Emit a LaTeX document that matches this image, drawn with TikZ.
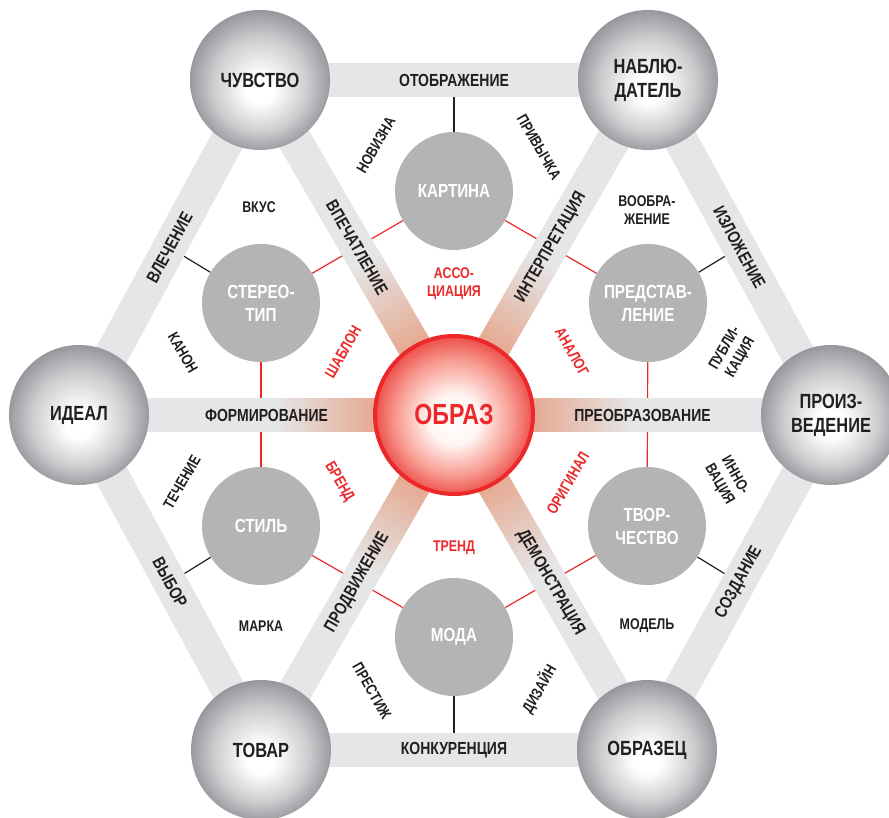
\documentclass[tikz,border=0pt]{standalone}
\usepackage{fontspec}
\setmainfont{Liberation Sans}[FakeStretch=0.8]
\usetikzlibrary{calc}
\definecolor{bandgray}{RGB}{229,230,231}
\definecolor{peach}{RGB}{230,166,140}
\definecolor{txt}{RGB}{35,31,32}
\definecolor{redc}{RGB}{236,40,42}
\definecolor{innergray}{RGB}{180,180,180}
\pgfdeclareradialshading{sphere}{\pgfpoint{0bp}{-4bp}}{rgb(0bp)=(1,1,1); rgb(5bp)=(1,1,1); rgb(17bp)=(0.8,0.8,0.81); rgb(29bp)=(0.5,0.5,0.53)}
\pgfdeclareradialshading{redball}{\pgfpoint{0bp}{-2bp}}{rgb(0bp)=(1,1,1); rgb(8bp)=(1,0.96,0.95); rgb(18bp)=(0.97,0.62,0.58); rgb(25bp)=(0.93,0.32,0.3); rgb(30bp)=(0.93,0.32,0.3)}
\pgfdeclarelayer{lines}
\pgfdeclarelayer{bands}
\pgfsetlayers{lines,bands,main}
\tikzset{
 outer/.style={circle, minimum size=140pt, inner sep=0pt, shade, shading=sphere, text=txt, font=\fontsize{20.5}{24}\selectfont\bfseries, align=center},
 inner/.style={circle, minimum size=118pt, inner sep=0pt, fill=innergray, text=white, font=\fontsize{19}{23}\selectfont\bfseries, align=center},
 core/.style={circle, minimum size=158pt, inner sep=0pt, shade, shading=redball, draw=redc, line width=4pt, text=redc, font=\fontsize{29}{34}\selectfont\bfseries},
 band/.style={line width=34pt, draw=bandgray},
 bandlbl/.style={text=txt, font=\fontsize{17.5}{20}\selectfont\bfseries, sloped, inner sep=0pt},
 lbl/.style={text=txt, font=\fontsize{15.5}{18}\selectfont\bfseries, align=center, inner sep=0pt},
 rlbl/.style={lbl, text=redc},
 blk/.style={draw=txt, line width=1.2pt},
 redl/.style={draw=redc, line width=1.2pt},
}
\begin{document}
\begin{tikzpicture}[x=1pt,y=1pt]
\useasboundingbox (0,0) rectangle (889,817);
% main nodes
\node[core] (C) at (454,402) {ОБРАЗ};
\node[outer] (ch) at (260,737) {ЧУВСТВО};
\node[outer] (nb) at (648,737) {НАБЛЮ-\\ДАТЕЛЬ};
\node[outer] (id) at (79,402) {ИДЕАЛ};
\node[outer] (pr) at (831,402) {ПРОИЗ-\\ВЕДЕНИЕ};
\node[outer] (tv) at (261,67) {ТОВАР};
\node[outer] (oz) at (647,67) {ОБРАЗЕЦ};
% inner nodes
\node[inner] (ka) at (454,626) {КАРТИНА};
\node[inner] (st) at (261,514) {СТЕРЕО-\\ТИП};
\node[inner] (ps) at (648,514) {ПРЕДСТАВ-\\ЛЕНИЕ};
\node[inner] (sl) at (261,291) {СТИЛЬ};
\node[inner] (tw) at (647,291) {ТВОР-\\ЧЕСТВО};
\node[inner] (mo) at (454,180) {МОДА};
% bands
\begin{pgfonlayer}{bands}
 \draw[band] (id.center) -- (ch.center) -- (nb.center) -- (pr.center) -- (oz.center) -- (tv.center) -- cycle;
 \foreach \n in {id,ch,nb,pr,oz,tv} \draw[band] (C.center) -- (\n.center);
 \foreach \a in {0,60,120,180,240,300} {
   \begin{scope}[shift={(C.center)}, rotate=\a]
     \foreach \i in {0,...,21} {
       \pgfmathtruncatemacro{\p}{\i*100/21}
       \fill[bandgray!\p!peach] ({70+5*\i},-17) rectangle ({76+5*\i},17);
     }
   \end{scope}
 }
\end{pgfonlayer}
% connectors
\begin{pgfonlayer}{lines}
 \foreach \a/\b in {ka/st, st/sl, sl/mo, mo/tw, tw/ps, ps/ka} \draw[redl] (\a) -- (\b);
 \draw[blk] (ka) -- ($(ch.center)!0.5!(nb.center)$);
 \draw[blk] (st) -- ($(id.center)!0.5!(ch.center)$);
 \draw[blk] (ps) -- ($(nb.center)!0.5!(pr.center)$);
 \draw[blk] (sl) -- ($(id.center)!0.5!(tv.center)$);
 \draw[blk] (tw) -- ($(oz.center)!0.5!(pr.center)$);
 \draw[blk] (mo) -- ($(tv.center)!0.5!(oz.center)$);
\end{pgfonlayer}
% band labels
\path (ch.center) -- node[bandlbl] {ОТОБРАЖЕНИЕ} (nb.center);
\path (tv.center) -- node[bandlbl] {КОНКУРЕНЦИЯ} (oz.center);
\path (id.center) -- node[bandlbl] {ВЛЕЧЕНИЕ} (ch.center);
\path (nb.center) -- node[bandlbl] {ИЗЛОЖЕНИЕ} (pr.center);
\path (id.center) -- node[bandlbl] {ВЫБОР} (tv.center);
\path (oz.center) -- node[bandlbl] {СОЗДАНИЕ} (pr.center);
\path (C.center) -- node[bandlbl] {ВПЕЧАТЛЕНИЕ} (ch.center);
\path (C.center) -- node[bandlbl] {ИНТЕРПРЕТАЦИЯ} (nb.center);
\path (id.center) -- node[bandlbl] {ФОРМИРОВАНИЕ} (C.center);
\path (C.center) -- node[bandlbl] {ПРЕОБРАЗОВАНИЕ} (pr.center);
\path (C.center) -- node[bandlbl] {ПРОДВИЖЕНИЕ} (tv.center);
\path (C.center) -- node[bandlbl] {ДЕМОНСТРАЦИЯ} (oz.center);
% small labels
\node[lbl, rotate=60] (l1) at (376,672) {НОВИЗНА};
\node[lbl, rotate=-60] (l2) at (539,670) {ПРИВЫЧКА};
\node[lbl] (l3) at (259,610) {ВКУС};
\node[lbl] (l4) at (647,607) {ВООБРА-\\ЖЕНИЕ};
\node[lbl, rotate=-60] (l5) at (183,464) {КАНОН};
\node[rlbl, rotate=60] (l6) at (343,465) {ШАБЛОН};
\node[rlbl, rotate=-60] (l7) at (572,465) {АНАЛОГ};
\node[lbl, rotate=60] (l8) at (733,464) {ПУБЛИ-\\КАЦИЯ};
\node[lbl, rotate=60] (l9) at (182,335) {ТЕЧЕНИЕ};
\node[rlbl, rotate=-60] (l10) at (339,335) {БРЕНД};
\node[rlbl, rotate=60] (l11) at (568,334) {ОРИГИНАЛ};
\node[lbl, rotate=-60] (l12) at (727,337) {ИННО-\\ВАЦИЯ};
\node[lbl] (l13) at (261,191) {МАРКА};
\node[lbl] (l14) at (647,191) {МОДЕЛЬ};
\node[lbl, rotate=-60] (l15) at (372,126) {ПРЕСТИЖ};
\node[lbl, rotate=60] (l16) at (539,128) {ДИЗАЙН};
\node[rlbl] (l17) at (454,269) {ТРЕНД};
\node[rlbl] (l18) at (454,533) {АССО-\\ЦИАЦИЯ};
\end{tikzpicture}
\end{document}
